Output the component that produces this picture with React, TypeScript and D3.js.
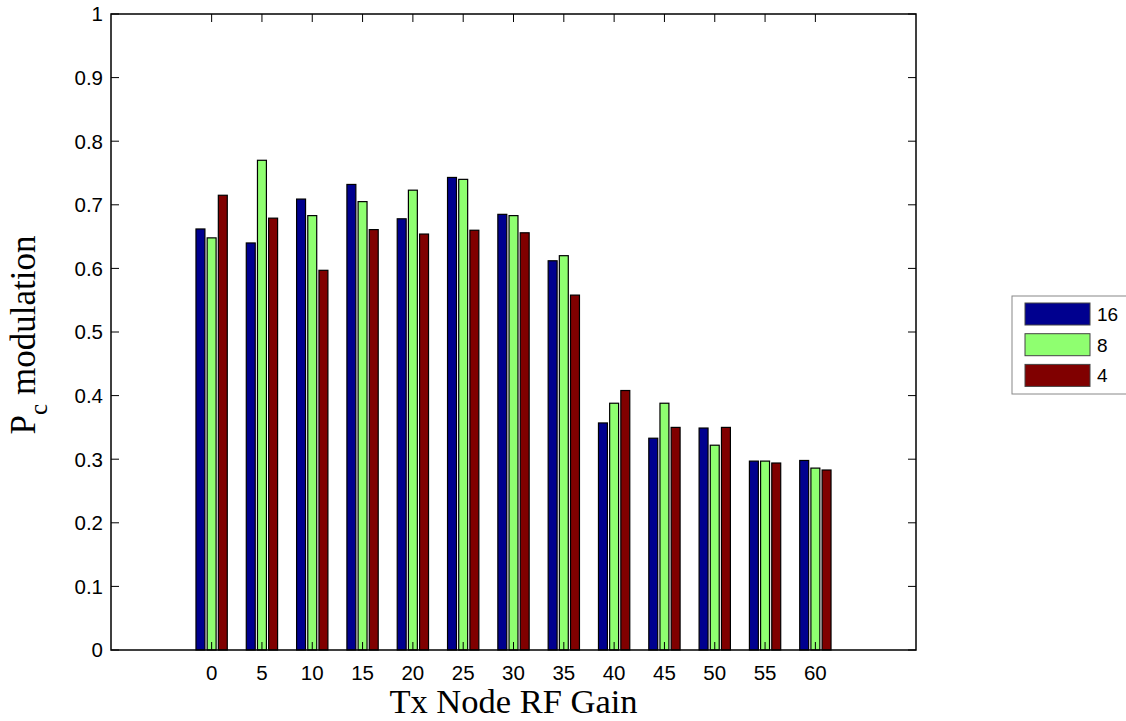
import React from "react";
import * as d3 from "d3";

const categories = [0, 5, 10, 15, 20, 25, 30, 35, 40, 45, 50, 55, 60];
const series16 = [0.662, 0.640, 0.709, 0.732, 0.678, 0.743, 0.685, 0.612, 0.357, 0.333, 0.349, 0.297, 0.298];
const series8 = [0.648, 0.770, 0.683, 0.705, 0.723, 0.740, 0.683, 0.620, 0.388, 0.388, 0.322, 0.297, 0.286];
const series4 = [0.715, 0.679, 0.597, 0.661, 0.654, 0.660, 0.656, 0.558, 0.408, 0.350, 0.350, 0.294, 0.283];
const seriesNames = ["16", "8", "4"];
const seriesColors = ["#00008F", "#8FFF70", "#800000"];
const yTicks = [0, 0.1, 0.2, 0.3, 0.4, 0.5, 0.6, 0.7, 0.8, 0.9, 1];

export default function App() {
  const W = 1126, H = 721;
  const L = 111, R = 916, T = 14, B = 650;
  const x = d3.scaleLinear().domain([-2, 14]).range([L, R]);
  const y = d3.scaleLinear().domain([0, 1]).range([B, T]);
  const all = [series16, series8, series4];
  const groupWidth = Math.min(0.8, 3 / 4.5);
  const barW = (groupWidth / 3) * 0.8;
  const tickLen = 8;
  const fmtY = (v: number) => (v === 0 ? "0" : v === 1 ? "1" : d3.format(".1f")(v));
  return (
    <svg width={W} height={H} style={{ position: "absolute", left: 0, top: 0, background: "#fff" }}>
      <rect x={0} y={0} width={W} height={H} fill="#fff" />
      {all.map((s, si) =>
        s.map((v, ci) => {
          const cx = ci + (si - 1) * (groupWidth / 3);
          const x0 = x(cx - barW / 2);
          const x1 = x(cx + barW / 2);
          return (
            <rect key={`${si}-${ci}`} x={x0} y={y(v)} width={x1 - x0} height={y(0) - y(v)}
              fill={seriesColors[si]} stroke="#000" strokeWidth={1.2} />
          );
        })
      )}
      <rect x={L} y={T} width={R - L} height={B - T} fill="none" stroke="#000" strokeWidth={1.5} />
      {yTicks.map((t) => (
        <g key={"y" + t}>
          <line x1={L} x2={L + tickLen} y1={y(t)} y2={y(t)} stroke="#000" />
          <line x1={R} x2={R - tickLen} y1={y(t)} y2={y(t)} stroke="#000" />
          <text x={L - 8} y={y(t)} dy="0.36em" textAnchor="end" fontFamily="Liberation Sans, Arial" fontSize={20.5}>{fmtY(t)}</text>
        </g>
      ))}
      {categories.map((c, i) => (
        <g key={"x" + c}>
          <line x1={x(i)} x2={x(i)} y1={B} y2={B - tickLen} stroke="#000" />
          <line x1={x(i)} x2={x(i)} y1={T} y2={T + tickLen} stroke="#000" />
          <text x={x(i)} y={680} textAnchor="middle" fontFamily="Liberation Sans, Arial" fontSize={20.5}>{c}</text>
        </g>
      ))}
      <text x={(L + R) / 2} y={713} textAnchor="middle" fontFamily="Liberation Serif, Times New Roman" fontSize={34.5}>Tx Node RF Gain</text>
      <text transform={`translate(35, 335) rotate(-90)`} textAnchor="middle" fontFamily="Liberation Serif, Times New Roman" fontSize={35}>
        P<tspan dy={12} fontSize={25}>c</tspan><tspan dy={-12}> modulation</tspan>
      </text>
      <rect x={1012} y={296} width={120} height={98} fill="#fff" stroke="#888" strokeWidth={1} />
      {seriesNames.map((n, i) => (
        <g key={n}>
          <rect x={1025} y={303 + i * 30.7} width={65} height={22} fill={seriesColors[i]} stroke="#444" strokeWidth={1} />
          <text x={1097} y={314 + i * 30.7} dy="0.36em" fontFamily="Liberation Sans, Arial" fontSize={19}>{n}</text>
        </g>
      ))}
    </svg>
  );
}
